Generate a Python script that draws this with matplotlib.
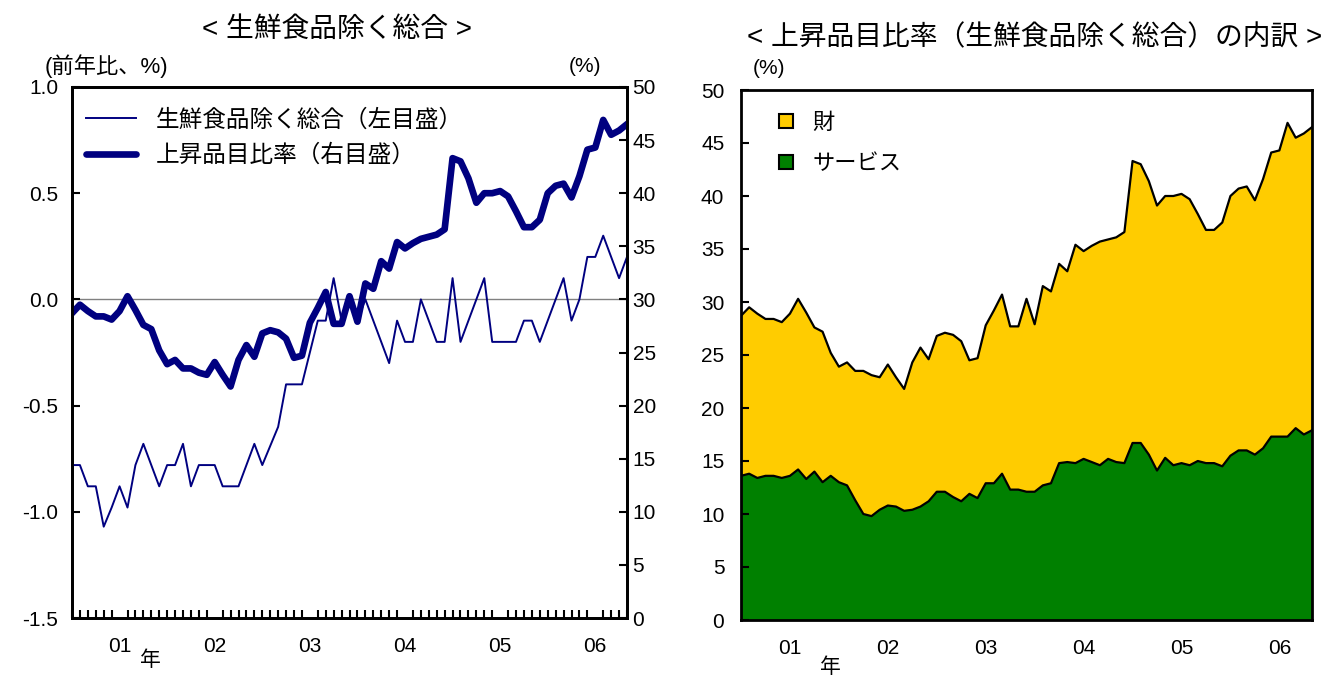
"""Core CPI and share of rising items, with breakdown into goods / services."""
import matplotlib as mpl
import matplotlib.pyplot as plt
import numpy as np
from matplotlib.lines import Line2D
from matplotlib.patches import Patch
from matplotlib.ticker import FormatStrFormatter

mpl.rcParams.update({
    "font.family": ["Liberation Sans", "Noto Sans CJK JP", "DejaVu Sans"],
    "font.size": 15,
    "axes.linewidth": 2.0,
    "axes.unicode_minus": False,
})

NAVY = "#000080"
GOODS_C = "#FFCC00"
SERV_C = "#008000"

# ── data: monthly, Jan 2001 - Nov 2006 ──
YEAR_LABELS = ["01", "02", "03", "04", "05", "06"]

# 生鮮食品除く総合, y/y %, left scale
core_cpi = [-0.78, -0.78, -0.88, -0.88, -1.07, -0.98, -0.88, -0.98, -0.78, -0.68,
            -0.78, -0.88, -0.78, -0.78, -0.68, -0.88, -0.78, -0.78, -0.78, -0.88,
            -0.88, -0.88, -0.78, -0.68, -0.78, -0.69, -0.60, -0.40, -0.40, -0.40,
            -0.25, -0.10, -0.10, 0.10, -0.10, 0.00, -0.10, 0.00, -0.10, -0.20,
            -0.30, -0.10, -0.20, -0.20, 0.00, -0.10, -0.20, -0.20, 0.10, -0.20,
            -0.10, 0.00, 0.10, -0.20, -0.20, -0.20, -0.20, -0.10, -0.10, -0.20,
            -0.10, 0.00, 0.10, -0.10, 0.00, 0.20, 0.20, 0.30, 0.20, 0.10,
            0.20]

# 上昇品目比率, %, right scale (= goods + services)
rise_ratio = [28.7, 29.5, 28.9, 28.4, 28.4, 28.1, 28.9, 30.3, 29.0, 27.6,
              27.2, 25.2, 23.9, 24.3, 23.5, 23.5, 23.1, 22.9, 24.1, 22.9,
              21.8, 24.3, 25.7, 24.6, 26.8, 27.1, 26.9, 26.3, 24.5, 24.7,
              27.8, 29.2, 30.7, 27.7, 27.7, 30.3, 27.9, 31.5, 31.0, 33.6,
              32.9, 35.4, 34.8, 35.3, 35.7, 35.9, 36.1, 36.6, 43.3, 43.0,
              41.4, 39.1, 40.0, 40.0, 40.2, 39.7, 38.3, 36.8, 36.8, 37.5,
              40.0, 40.7, 40.9, 39.6, 41.6, 44.1, 44.3, 46.9, 45.5, 45.9,
              46.5]

# services part of the rise ratio, %
rise_services = [13.6, 13.8, 13.4, 13.6, 13.6, 13.4, 13.6, 14.2, 13.3, 14.0,
                 13.0, 13.6, 13.0, 12.7, 11.3, 10.0, 9.8, 10.4, 10.8, 10.7,
                 10.3, 10.4, 10.7, 11.2, 12.1, 12.1, 11.6, 11.2, 11.9, 11.5,
                 12.9, 12.9, 13.8, 12.3, 12.3, 12.1, 12.1, 12.7, 12.9, 14.8,
                 14.9, 14.8, 15.2, 14.9, 14.6, 15.2, 14.9, 14.8, 16.7, 16.7,
                 15.6, 14.1, 15.3, 14.6, 14.8, 14.6, 15.0, 14.8, 14.8, 14.5,
                 15.5, 16.0, 16.0, 15.6, 16.2, 17.3, 17.3, 17.3, 18.1, 17.5,
                 17.9]

n = len(core_cpi)
x = np.arange(n)
rise_goods = np.array(rise_ratio) - np.array(rise_services)
year_pos = [6 + 12 * k for k in range(len(YEAR_LABELS))]

W, H = 1333, 678
fig = plt.figure(figsize=(W / 100, H / 100), dpi=100)
fig.patch.set_facecolor("white")

# ═════ Left panel: core CPI + rise ratio ═════
ax1 = fig.add_axes([72 / W, 1 - 618 / H, 555 / W, 531 / H])
ax1.axhline(0, color="#808080", lw=1.0, zorder=1)
ax1.plot(x, core_cpi, color=NAVY, lw=1.4, zorder=3)
ax1.set_xlim(0, n - 1)
ax1.set_ylim(-1.5, 1.0)
ax1.set_yticks(np.arange(-1.5, 1.01, 0.5))
ax1.yaxis.set_major_formatter(FormatStrFormatter("%.1f"))
ax1.tick_params(axis="y", direction="in", length=6, width=1.5, pad=10)
ax1.set_xticks(year_pos)
ax1.set_xticklabels(YEAR_LABELS)
ax1.set_xticks(x, minor=True)
ax1.tick_params(axis="x", which="major", length=0, pad=14)
ax1.tick_params(axis="x", which="minor", direction="in", length=6, width=1.5)

ax2 = ax1.twinx()
ax2.plot(x, rise_ratio, color=NAVY, lw=4.8, solid_joinstyle="round", zorder=2)
ax2.set_ylim(0, 50)
ax2.set_yticks(np.arange(0, 51, 5))
ax2.tick_params(axis="y", direction="in", length=6, width=1.5, pad=4)
for a in (ax1, ax2):
    for sp in a.spines.values():
        sp.set_linewidth(2.0)

ax2.legend(handles=[Line2D([0], [0], color=NAVY, lw=1.4),
                    Line2D([0], [0], color=NAVY, lw=4.8, solid_capstyle="round")],
           labels=["生鮮食品除く総合（左目盛）", "上昇品目比率（右目盛）"],
           loc="upper left", bbox_to_anchor=(0.0, 0.985), frameon=False,
           fontsize=17, handlelength=2.1, handletextpad=0.85,
           labelspacing=0.55, borderaxespad=0.2)

# ═════ Right panel: breakdown of rise ratio ═════
ax3 = fig.add_axes([741 / W, 1 - 620 / H, 571 / W, 530 / H])
ax3.stackplot(x, rise_services, rise_goods, colors=[SERV_C, GOODS_C], lw=0)
ax3.plot(x, rise_services, color="black", lw=1.6)
ax3.plot(x, rise_ratio, color="black", lw=1.6)
ax3.set_xlim(0, n - 1)
ax3.set_ylim(0, 50)
ax3.set_yticks(np.arange(0, 51, 5))
ax3.tick_params(axis="y", direction="in", length=6, width=1.5, pad=12)
ax3.set_xticks(year_pos)
ax3.set_xticklabels(YEAR_LABELS)
ax3.tick_params(axis="x", which="major", length=0, pad=14)
for sp in ax3.spines.values():
    sp.set_linewidth(2.0)

ax3.legend(handles=[Patch(facecolor=GOODS_C, edgecolor="black", lw=1.5),
                    Patch(facecolor=SERV_C, edgecolor="black", lw=1.5)],
           labels=["財", "サービス"],
           loc="upper left", bbox_to_anchor=(0.032, 0.995), frameon=False,
           fontsize=16, handlelength=0.6, handleheight=0.6, handletextpad=0.9,
           labelspacing=0.9, borderaxespad=0.5)

# ── titles and unit labels ──
fig.text(337 / W, 1 - 30 / H, "< 生鮮食品除く総合 >", ha="center", va="center", fontsize=20)
fig.text(1035 / W, 1 - 38 / H, "< 上昇品目比率（生鮮食品除く総合）の内訳 >",
         ha="center", va="center", fontsize=20)
fig.text(45 / W, 1 - 66 / H, "(前年比、%)", ha="left", va="center", fontsize=16)
fig.text(585 / W, 1 - 66 / H, "(%)", ha="center", va="center", fontsize=15)
fig.text(769 / W, 1 - 69 / H, "(%)", ha="center", va="center", fontsize=15)
fig.text(150 / W, 1 - 660 / H, "年", ha="center", va="center", fontsize=15)
fig.text(830 / W, 1 - 667 / H, "年", ha="center", va="center", fontsize=15)

fig.savefig("out.png", dpi=100, facecolor="white")
plt.close(fig)
